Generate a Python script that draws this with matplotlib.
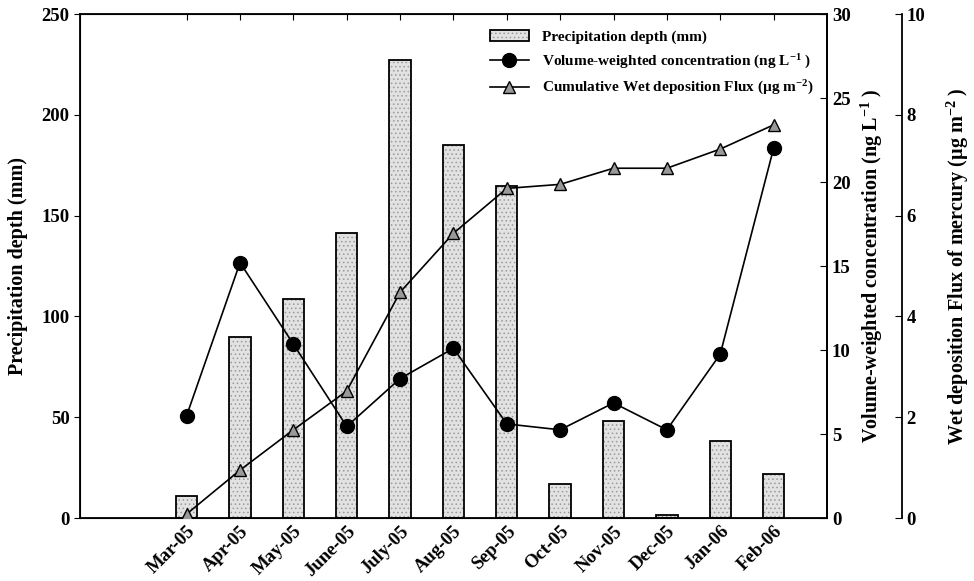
import matplotlib
matplotlib.use('Agg')
import matplotlib.pyplot as plt
import numpy as np

plt.rcParams['font.family'] = ['Liberation Serif', 'DejaVu Serif']
plt.rcParams['font.weight'] = 'bold'
plt.rcParams['mathtext.fontset'] = 'custom'
plt.rcParams['mathtext.rm'] = 'Liberation Serif:bold'
plt.rcParams['mathtext.default'] = 'rm'
plt.rcParams['hatch.linewidth'] = 0.6

months = ['Mar-05', 'Apr-05', 'May-05', 'June-05', 'July-05', 'Aug-05',
          'Sep-05', 'Oct-05', 'Nov-05', 'Dec-05', 'Jan-06', 'Feb-06']
precip = [11, 90, 108.5, 141.5, 227, 185, 164.5, 17, 48, 1.5, 38, 22]
conc = [6.1, 15.2, 10.35, 5.45, 8.3, 10.1, 5.6, 5.25, 6.85, 5.25, 9.75, 22.0]
flux = [0.08, 0.95, 1.75, 2.52, 4.48, 5.65, 6.54, 6.62, 6.94, 6.94, 7.32, 7.8]

x = np.arange(len(months))

fig = plt.figure(figsize=(9.74, 5.81), dpi=100)
ax = fig.add_axes([0.0821, 0.1084, 0.7669, 0.8675])

fs = 13
lfs = 14.5

# bars: dotted grey fill, then black outline on top
bfill = ax.bar(x, precip, width=0.4, color='#e2e2e2', edgecolor='#9a9a9a',
               linewidth=0, hatch='....')
bedge = ax.bar(x, precip, width=0.4, color='none', edgecolor='black',
               linewidth=1.3)
ax.set_xlim(-2, 12)
ax.set_ylim(0, 250)
ax.set_yticks([0, 50, 100, 150, 200, 250])
ax.set_xticks(x)
ax.set_xticklabels(months, rotation=45, ha='right', rotation_mode='anchor',
                   fontsize=fs + 0.5, fontweight='bold')
ax.tick_params(axis='y', direction='out', labelsize=fs + 0.5, length=4)
ax.tick_params(axis='x', direction='in', top=True, bottom=False, length=4)
ax.set_ylabel('Precipitation depth (mm)', fontsize=lfs, fontweight='bold',
              labelpad=10)
for s in ax.spines.values():
    s.set_linewidth(1.3)

# concentration axis
ax2 = ax.twinx()
l1, = ax2.plot(x, conc, '-o', color='black', markersize=10, linewidth=1.2)
ax2.set_ylim(0, 30)
ax2.set_yticks([0, 5, 10, 15, 20, 25, 30])
ax2.tick_params(axis='y', direction='in', labelsize=fs + 0.5, length=5)
ax2.set_ylabel('Volume-weighted concentration (ng L$^{-1}$ )',
               fontsize=lfs, fontweight='bold', labelpad=6)
ax2.spines['right'].set_linewidth(1.3)

# flux axis
ax3 = ax.twinx()
ax3.spines['right'].set_position(('axes', 1.1))
for k in ['top', 'bottom', 'left']:
    ax3.spines[k].set_visible(False)
ax3.spines['right'].set_linewidth(1.3)
l2, = ax3.plot(x, flux, '-^', color='black', markerfacecolor='#999999',
               markeredgecolor='black', markersize=9, linewidth=1.2)
ax3.set_ylim(0, 10)
ax3.set_yticks([0, 2, 4, 6, 8, 10])
ax3.tick_params(axis='y', direction='in', labelsize=fs + 0.5, length=5)
ax3.set_ylabel('Wet deposition Flux of mercury (µg m$^{-2}$ )',
               fontsize=lfs, fontweight='bold', labelpad=14)

ax3.legend([(bfill, bedge), l1, l2],
           ['Precipitation depth (mm)',
            'Volume-weighted concentration (ng L$^{-1}$ )',
            'Cumulative Wet deposition Flux (µg m$^{-2}$)'],
           loc='upper left', bbox_to_anchor=(0.53, 0.995), frameon=False,
           prop={'size': 11, 'weight': 'bold'}, handlelength=2.6,
           labelspacing=0.55)

fig.savefig('out.png', dpi=100)
